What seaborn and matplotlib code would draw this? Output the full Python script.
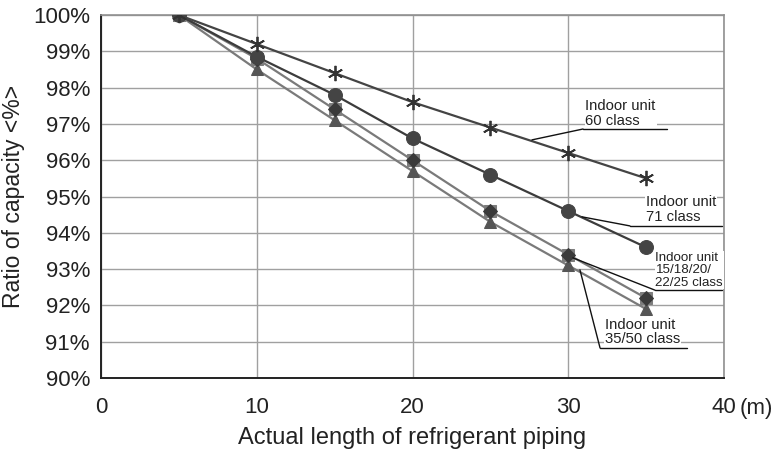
import matplotlib
matplotlib.use('Agg')
import matplotlib.pyplot as plt
import seaborn as sns
import pandas as pd

# piping length (m) and capacity ratio (%) per indoor unit class
length = [5, 10, 15, 20, 25, 30, 35]
cap_60 = [100, 99.2, 98.4, 97.6, 96.9, 96.2, 95.5]
cap_71 = [100, 98.85, 97.8, 96.6, 95.6, 94.6, 93.6]
cap_15_25 = [100, 98.8, 97.4, 96.0, 94.6, 93.4, 92.2]
cap_35_50 = [100, 98.5, 97.1, 95.7, 94.3, 93.1, 91.9]

x_ticks = [0, 10, 20, 30, 40]
y_ticks = [90, 91, 92, 93, 94, 95, 96, 97, 98, 99, 100]

sns.set_style('white')
plt.rcParams['font.family'] = ['Liberation Sans', 'DejaVu Sans']

fig = plt.figure(figsize=(7.74, 4.62), dpi=100)
ax = fig.add_axes([0.1305, 0.1818, 0.8049, 0.7857])

df = pd.DataFrame({'len': length, 'c60': cap_60, 'c71': cap_71,
                   'c15': cap_15_25, 'c35': cap_35_50})

# grey lines first, dark ones over them
sns.lineplot(data=df, x='len', y='c35', ax=ax, color='#7a7a7a', lw=1.6,
             marker='^', markersize=9, markerfacecolor='#555555',
             markeredgecolor='#555555', zorder=3)
sns.lineplot(data=df, x='len', y='c15', ax=ax, color='#7a7a7a', lw=1.6,
             marker='s', markersize=9, markerfacecolor='#7d7d7d',
             markeredgecolor='#7d7d7d', zorder=3)
sns.lineplot(data=df, x='len', y='c15', ax=ax, color='#333333', lw=0,
             marker='D', markersize=7, markerfacecolor='#3a3a3a',
             markeredgecolor='#3a3a3a', zorder=4)
sns.lineplot(data=df, x='len', y='c71', ax=ax, color='#3c3c3c', lw=1.6,
             marker='o', markersize=10, markerfacecolor='#444444',
             markeredgecolor='#444444', zorder=4)
sns.lineplot(data=df, x='len', y='c60', ax=ax, color='#444444', lw=1.6,
             marker=(6, 2, 0), markersize=11, markeredgewidth=1.3,
             markeredgecolor='#333333', zorder=4)

ax.set_xlim(0, 40)
ax.set_ylim(90, 100)
ax.set_xticks(x_ticks)
ax.set_xticklabels([str(v) for v in x_ticks])
ax.set_yticks(y_ticks)
ax.set_yticklabels([f'{v}%' for v in y_ticks])
ax.grid(True, color='#a0a0a0', lw=1)
ax.tick_params(length=0, labelsize=16, colors='#222222')
ax.tick_params(axis='x', pad=14)
ax.tick_params(axis='y', pad=8)
for s in ['left', 'bottom']:
    ax.spines[s].set_color('#222222')
    ax.spines[s].set_linewidth(1.4)
for s in ['top', 'right']:
    ax.spines[s].set_color('#909090')
    ax.spines[s].set_linewidth(1.2)

ax.set_xlabel('Actual length of refrigerant piping', fontsize=17,
              color='#222222', labelpad=6)
ax.set_ylabel('Ratio of capacity <%>', fontsize=16.5, color='#222222',
              labelpad=6)
ax.text(1.025, -0.083, '(m)', transform=ax.transAxes, fontsize=16,
        color='#222222', ha='left', va='center')

# class labels with underline and leader line
labels = [
    ('Indoor unit\n60 class', 31.1, 96.9, 10.7, (27.67, 96.56), (30.95, 36.34, 96.86)),
    ('Indoor unit\n71 class', 35.0, 94.25, 10.7, (30.88, 94.44), (33.96, 39.87, 94.19)),
    ('Indoor unit\n15/18/20/\n22/25 class', 35.6, 92.46, 9.6, (30.3, 93.31), (35.57, 39.87, 92.42)),
    ('Indoor unit\n35/50 class', 32.36, 90.87, 10.7, (30.75, 92.98), (32.04, 37.62, 90.83)),
]
for txt, tx, ty, fs, tip, (u0, u1, uy) in labels:
    ax.text(tx, ty, txt, fontsize=fs, color='#222222', ha='left',
            va='bottom', linespacing=1.05, zorder=5,
            bbox=dict(facecolor='white', edgecolor='none', pad=0.5))
    ax.plot([u0, u1], [uy, uy], color='#111111', lw=1, zorder=5)
    ax.plot([u0, tip[0]], [uy, tip[1]], color='#111111', lw=1, zorder=5)

fig.savefig('out.png', dpi=100)
